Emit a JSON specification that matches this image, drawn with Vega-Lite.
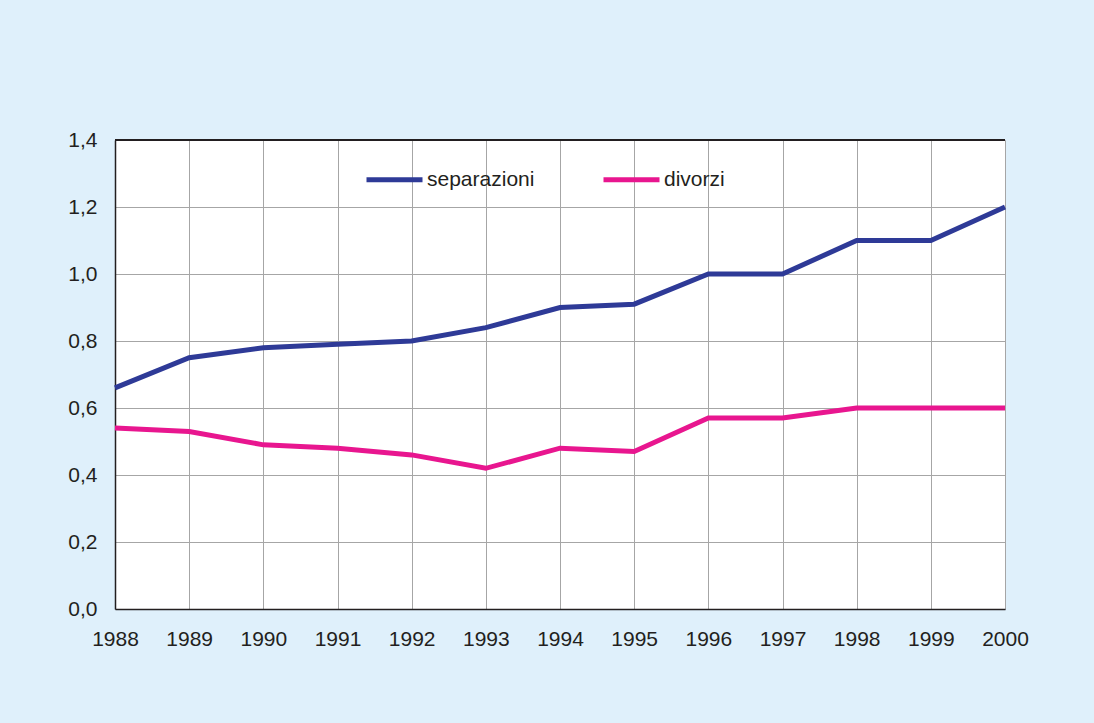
{
  "$schema": "https://vega.github.io/schema/vega-lite/v6.json",
  "autosize": "none",
  "width": 890,
  "height": 469,
  "padding": {"left": 115, "top": 140, "right": 89, "bottom": 114},
  "background": "#dff0fb",
  "config": {
    "view": {"stroke": null, "fill": "#ffffff"},
    "font": "Liberation Sans"
  },
  "data": {
    "values": [
      {"anno": 1988, "serie": "separazioni", "valore": 0.66},
      {"anno": 1989, "serie": "separazioni", "valore": 0.75},
      {"anno": 1990, "serie": "separazioni", "valore": 0.78},
      {"anno": 1991, "serie": "separazioni", "valore": 0.79},
      {"anno": 1992, "serie": "separazioni", "valore": 0.80},
      {"anno": 1993, "serie": "separazioni", "valore": 0.84},
      {"anno": 1994, "serie": "separazioni", "valore": 0.90},
      {"anno": 1995, "serie": "separazioni", "valore": 0.91},
      {"anno": 1996, "serie": "separazioni", "valore": 1.0},
      {"anno": 1997, "serie": "separazioni", "valore": 1.0},
      {"anno": 1998, "serie": "separazioni", "valore": 1.1},
      {"anno": 1999, "serie": "separazioni", "valore": 1.1},
      {"anno": 2000, "serie": "separazioni", "valore": 1.2},
      {"anno": 1988, "serie": "divorzi", "valore": 0.54},
      {"anno": 1989, "serie": "divorzi", "valore": 0.53},
      {"anno": 1990, "serie": "divorzi", "valore": 0.49},
      {"anno": 1991, "serie": "divorzi", "valore": 0.48},
      {"anno": 1992, "serie": "divorzi", "valore": 0.46},
      {"anno": 1993, "serie": "divorzi", "valore": 0.42},
      {"anno": 1994, "serie": "divorzi", "valore": 0.48},
      {"anno": 1995, "serie": "divorzi", "valore": 0.47},
      {"anno": 1996, "serie": "divorzi", "valore": 0.57},
      {"anno": 1997, "serie": "divorzi", "valore": 0.57},
      {"anno": 1998, "serie": "divorzi", "valore": 0.6},
      {"anno": 1999, "serie": "divorzi", "valore": 0.6},
      {"anno": 2000, "serie": "divorzi", "valore": 0.6}
    ]
  },
  "layer": [
    {
      "mark": {"type": "line", "strokeWidth": 5, "strokeJoin": "miter", "strokeCap": "butt"},
      "encoding": {
        "x": {
          "field": "anno", "type": "quantitative",
          "scale": {"domain": [1988, 2000], "nice": false, "zero": false},
          "axis": {
            "title": null,
            "values": [1988, 1989, 1990, 1991, 1992, 1993, 1994, 1995, 1996, 1997, 1998, 1999, 2000],
            "format": "d",
            "grid": true, "gridColor": "#a6a6a6", "gridWidth": 1, "gridOpacity": 1,
            "ticks": false,
            "domain": true, "domainColor": "#231f20", "domainWidth": 1.5,
            "labelFontSize": 21, "labelColor": "#231f20", "labelPadding": 19,
            "labelFont": "Liberation Sans", "labelOverlap": false, "labelFlush": false
          }
        },
        "y": {
          "field": "valore", "type": "quantitative",
          "scale": {"domain": [0, 1.4], "nice": false},
          "axis": {
            "title": null,
            "values": [0, 0.2, 0.4, 0.6, 0.8, 1.0, 1.2, 1.4],
            "labelExpr": "replace(format(datum.value, '.1f'), '.', ',')",
            "grid": true, "gridColor": "#a6a6a6", "gridWidth": 1, "gridOpacity": 1,
            "ticks": false,
            "domain": true, "domainColor": "#231f20", "domainWidth": 1.5,
            "labelFontSize": 21, "labelColor": "#231f20", "labelPadding": 18,
            "labelFont": "Liberation Sans", "labelOverlap": false, "labelFlush": false
          }
        },
        "color": {
          "field": "serie", "type": "nominal",
          "scale": {"domain": ["separazioni", "divorzi"], "range": ["#2e3a97", "#e8168f"]},
          "legend": {
            "title": null,
            "orient": "none",
            "direction": "horizontal",
            "legendX": 249,
            "legendY": 9,
            "symbolType": "stroke",
            "symbolSize": 3136,
            "symbolStrokeWidth": 5,
            "labelFontSize": 21,
            "labelColor": "#231f20",
            "labelFont": "Liberation Sans",
            "labelOffset": 2,
            "columnPadding": 58
          }
        }
      }
    },
    {
      "mark": {"type": "rule", "color": "#231f20", "strokeWidth": 1.5},
      "encoding": {"y": {"datum": 1.4}}
    }
  ]
}
